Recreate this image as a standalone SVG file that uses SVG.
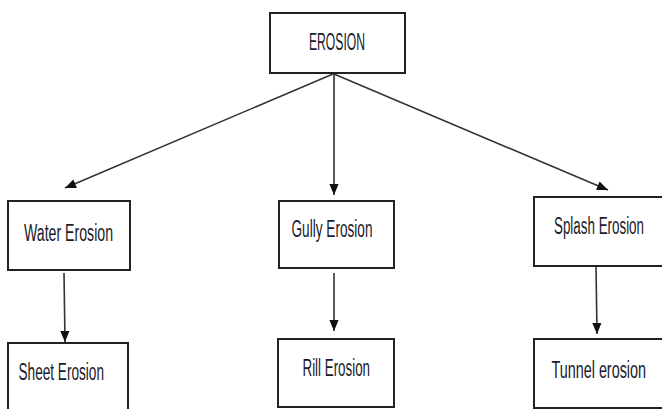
<svg xmlns="http://www.w3.org/2000/svg" width="662" height="409" viewBox="0 0 662 409">
<defs>
<style>
.box{fill:#fff;stroke:#222;stroke-width:2}
.lbl{font-family:"Liberation Sans Narrow","Liberation Sans",Arial,sans-serif;font-size:23px;fill:#1a1a2a}
.con{stroke:#333;stroke-width:1.6;fill:none}
</style>
<marker id="a" viewBox="0 0 12 12" refX="12" refY="6" markerWidth="12" markerHeight="11" orient="auto" markerUnits="userSpaceOnUse">
<path d="M0,1 L12,6 L0,11 z" fill="#111"/>
</marker>
</defs>
<rect width="662" height="409" fill="#fff"/>
<g id="connectors">
<line class="con" x1="333" y1="74" x2="65" y2="188" marker-end="url(#a)"/>
<line class="con" x1="334" y1="74" x2="334" y2="195" marker-end="url(#a)"/>
<line class="con" x1="334" y1="74" x2="608" y2="190" marker-end="url(#a)"/>
<line class="con" x1="64" y1="273" x2="65" y2="342" marker-end="url(#a)"/>
<line class="con" x1="334" y1="273" x2="334" y2="331" marker-end="url(#a)"/>
<line class="con" x1="596" y1="266" x2="597" y2="334" marker-end="url(#a)"/>
</g>
<g id="erosion">
<rect class="box" x="270" y="13" width="135" height="60"/>
<text class="lbl" x="309" y="50" textLength="56" lengthAdjust="spacingAndGlyphs">EROSION</text>
</g>
<g id="water">
<rect class="box" x="8" y="201" width="122" height="69"/>
<text class="lbl" x="24" y="240.5" textLength="89" lengthAdjust="spacingAndGlyphs">Water Erosion</text>
</g>
<g id="gully">
<rect class="box" x="279" y="201" width="115" height="67"/>
<text class="lbl" x="291.5" y="237" textLength="81" lengthAdjust="spacingAndGlyphs">Gully Erosion</text>
</g>
<g id="splash">
<rect class="box" x="534" y="197" width="140" height="69"/>
<text class="lbl" x="554" y="234" textLength="90" lengthAdjust="spacingAndGlyphs">Splash Erosion</text>
</g>
<g id="sheet">
<rect class="box" x="8" y="343" width="120" height="80"/>
<text class="lbl" x="18.5" y="380" textLength="85.5" lengthAdjust="spacingAndGlyphs">Sheet Erosion</text>
</g>
<g id="rill">
<rect class="box" x="278" y="339" width="116" height="68"/>
<text class="lbl" x="302.5" y="376" textLength="67.5" lengthAdjust="spacingAndGlyphs">Rill Erosion</text>
</g>
<g id="tunnel">
<rect class="box" x="534" y="339" width="140" height="69"/>
<text class="lbl" x="551.5" y="378" textLength="94.5" lengthAdjust="spacingAndGlyphs">Tunnel erosion</text>
</g>
</svg>
